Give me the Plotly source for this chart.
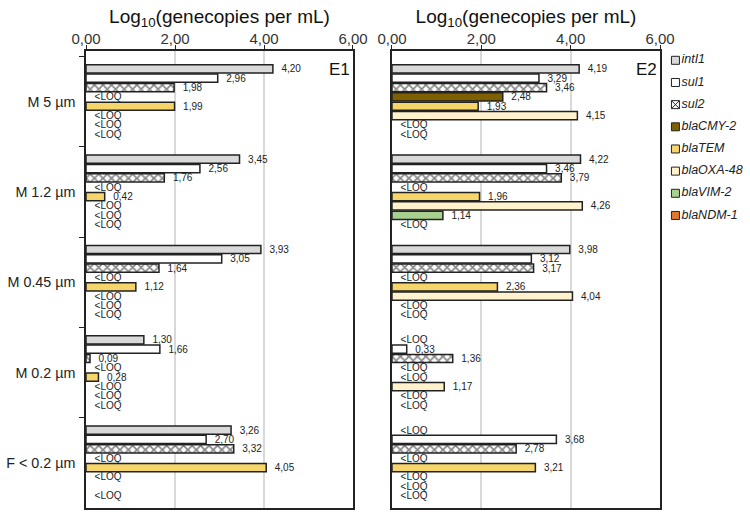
import plotly.graph_objects as go

LOQ = "<LOQ"

categories = ["M 5 µm", "M 1.2 µm", "M 0.45 µm", "M 0.2 µm", "F < 0.2 µm"]
genes = ["intI1", "sul1", "sul2", "blaCMY-2", "blaTEM", "blaOXA-48", "blaVIM-2", "blaNDM-1"]

# E1 (None = no value shown)
e1_intI1 = [4.20, 3.45, 3.93, 1.30, 3.26]
e1_sul1 = [2.96, 2.56, 3.05, 1.66, 2.70]
e1_sul2 = [1.98, 1.76, 1.64, 0.09, 3.32]
e1_cmy2 = [LOQ, LOQ, LOQ, LOQ, LOQ]
e1_tem = [1.99, 0.42, 1.12, 0.28, 4.05]
e1_oxa48 = [LOQ, LOQ, LOQ, LOQ, LOQ]
e1_vim2 = [LOQ, LOQ, LOQ, LOQ, None]
e1_ndm1 = [LOQ, LOQ, LOQ, LOQ, LOQ]

# E2
e2_intI1 = [4.19, 4.22, 3.98, LOQ, LOQ]
e2_sul1 = [3.29, 3.46, 3.12, 0.33, 3.68]
e2_sul2 = [3.46, 3.79, 3.17, 1.36, 2.78]
e2_cmy2 = [2.48, LOQ, LOQ, LOQ, LOQ]
e2_tem = [1.93, 1.96, 2.36, LOQ, 3.21]
e2_oxa48 = [4.15, 4.26, 4.04, 1.17, LOQ]
e2_vim2 = [LOQ, 1.14, LOQ, LOQ, LOQ]
e2_ndm1 = [LOQ, LOQ, LOQ, LOQ, LOQ]

colors = ["#d9d9d9", "#ffffff", "#ffffff", "#7f6000", "#f6d56a", "#fff2cc", "#a9d18e", "#e2772e"]

e1 = [e1_intI1, e1_sul1, e1_sul2, e1_cmy2, e1_tem, e1_oxa48, e1_vim2, e1_ndm1]
e2 = [e2_intI1, e2_sul1, e2_sul2, e2_cmy2, e2_tem, e2_oxa48, e2_vim2, e2_ndm1]

font = "Arial, Liberation Sans, sans-serif"
pad = "\u00a0\u00a0"


def bar_xy(vals):
    xs, txt, lw = [], [], []
    for v in vals:
        if v is None:
            xs.append(None)
            txt.append("")
            lw.append(0)
        elif v == LOQ:
            xs.append(0)
            txt.append(pad + LOQ)
            lw.append(0)
        else:
            xs.append(v)
            txt.append(pad + f"{v:.2f}".replace(".", ","))
            lw.append(1.5)
    return xs, txt, lw


fig = go.Figure()
for data, xa, ya in [(e1, "x", "y"), (e2, "x2", "y2")]:
    for i, g in enumerate(genes):
        xs, txt, lw = bar_xy(data[i])
        pattern = dict(shape="x", size=6, solidity=0.5, fgcolor="#111") if g == "sul2" else None
        fig.add_trace(go.Bar(
            x=xs, y=categories, orientation="h", name=g, text=txt,
            textposition="outside", constraintext="none", cliponaxis=False,
            textfont=dict(size=10, color="#222", family=font),
            marker=dict(color=colors[i], line=dict(color="#222", width=lw), pattern=pattern),
            xaxis=xa, yaxis=ya, showlegend=False, hoverinfo="skip",
        ))

# legend drawn as markers on its own hidden axis
symbols = ["square-x" if g == "sul2" else "square" for g in genes]
fig.add_trace(go.Scatter(
    x=[0] * len(genes), y=list(range(len(genes))), mode="markers+text",
    text=[f"<i>{g}</i>" for g in genes], textposition="middle right",
    textfont=dict(size=12.5, color="#222", family=font),
    marker=dict(symbol=symbols, size=8, color=colors, line=dict(color="#222", width=1)),
    xaxis="x3", yaxis="y3", showlegend=False, hoverinfo="skip", cliponaxis=False,
))

xcommon = dict(range=[0, 6], dtick=2, tickformat=".2f", side="top", showgrid=True,
               gridcolor="#d9d9d9", gridwidth=1.5, zeroline=False, showline=True, mirror=True,
               linecolor="#222", linewidth=1.5, ticks="outside", ticklen=4, tickcolor="#222",
               ticklabelstandoff=-5, automargin=False,
               tickfont=dict(size=15, color="#333", family=font),
               title=dict(text="Log<sub>10</sub>(genecopies per mL)", standoff=0,
                          font=dict(size=19, color="#111", family=font)))
ycommon = dict(range=[4.5, -0.56], categoryorder="array", categoryarray=categories,
               showgrid=False, zeroline=False, showline=True, mirror=True,
               linecolor="#222", linewidth=1.5, automargin=False)

fig.update_layout(
    width=750, height=515,
    margin=dict(l=86, r=0, t=51, b=7),
    paper_bgcolor="white", plot_bgcolor="white",
    separators=", ",
    barmode="group", bargap=0.172, bargroupgap=0.12,
    font=dict(family=font, color="#222"),
    xaxis=dict(domain=[0, 0.4021], anchor="y", **xcommon),
    xaxis2=dict(domain=[0.4608, 0.8645], anchor="y2", **xcommon),
    yaxis=dict(domain=[0, 1], anchor="x", ticks="outside", tickson="boundaries", ticklen=5,
               tickcolor="#222", ticklabelstandoff=6,
               tickfont=dict(size=14.3, color="#222", family=font), **ycommon),
    yaxis2=dict(domain=[0, 1], anchor="x2", showticklabels=False, ticks="", **ycommon),
    xaxis3=dict(domain=[0.8765, 1], anchor="y3", range=[-0.1, 1], visible=False),
    yaxis3=dict(domain=[0, 1], anchor="x3", range=[20.2, -0.42], visible=False),
    annotations=[
        dict(text="E1", xref="x domain", yref="y domain", x=0.997, y=0.985,
             xanchor="right", yanchor="top", showarrow=False,
             font=dict(size=17, color="#111", family=font)),
        dict(text="E2", xref="x2 domain", yref="y2 domain", x=0.997, y=0.985,
             xanchor="right", yanchor="top", showarrow=False,
             font=dict(size=17, color="#111", family=font)),
    ],
)

# page has a default 8px body margin; drop it so the figure fills the window
fig.write_html("out.html", config={"displayModeBar": False},
               post_script="document.body.style.margin='0px';")
